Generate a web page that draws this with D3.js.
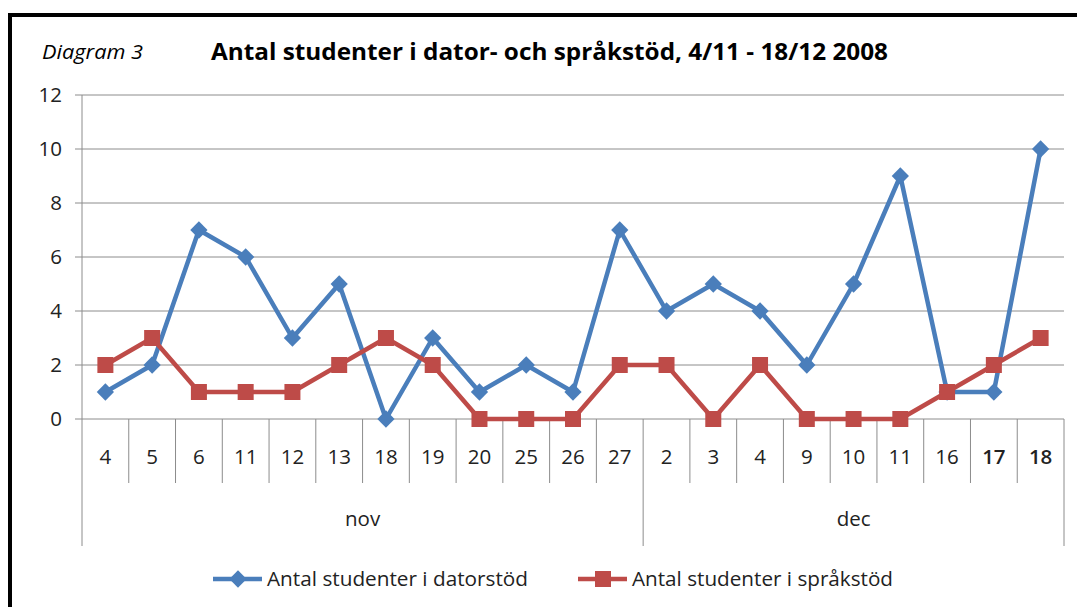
<!DOCTYPE html>
<html>
<head>
<meta charset="utf-8">
<script src="https://cdn.jsdelivr.net/npm/d3@7"></script>
<style>
  body { margin: 0; background: #fff; }
  text { font-family: "Open Sans", "Liberation Sans", sans-serif; }
</style>
</head>
<body>
<div id="chart"></div>
<script>
// data
var days = ["4","5","6","11","12","13","18","19","20","25","26","27","2","3","4","9","10","11","16","17","18"];
var months = ["nov","nov","nov","nov","nov","nov","nov","nov","nov","nov","nov","nov","dec","dec","dec","dec","dec","dec","dec","dec","dec"];
var dator = [1,2,7,6,3,5,0,3,1,2,1,7,4,5,4,2,5,9,1,1,10];
var sprak = [2,3,1,1,1,2,3,2,0,0,0,2,2,0,2,0,0,0,1,2,3];
var yTicks = [0,2,4,6,8,10,12];

var W = 1077, H = 607;
var plotL = 82, plotR = 1064, plotT = 95, plotB = 419;
var axisFont = 20.5;

var svg = d3.select("#chart").append("svg")
    .attr("width", W).attr("height", H);

// frame
svg.append("rect").attr("x", 10).attr("y", 15).attr("width", 1100).attr("height", 650)
    .attr("fill", "none").attr("stroke", "#000").attr("stroke-width", 4);

var idx = d3.range(days.length);
var x = d3.scaleBand().domain(idx).range([plotL, plotR]);
var y = d3.scaleLinear().domain([0, 12]).range([plotB, plotT]);

// gridlines
svg.append("g").selectAll("line").data(yTicks).enter().append("line")
    .attr("x1", plotL - 7).attr("x2", plotR)
    .attr("y1", function(d) { return y(d); }).attr("y2", function(d) { return y(d); })
    .attr("stroke", "#8c8c8c").attr("stroke-width", 1);

// y axis
svg.append("line").attr("x1", plotL).attr("x2", plotL).attr("y1", plotT).attr("y2", 546)
    .attr("stroke", "#8c8c8c");
svg.append("g").selectAll("text").data(yTicks).enter().append("text")
    .attr("x", 62).attr("y", function(d) { return y(d) + 7; })
    .attr("text-anchor", "end").attr("font-size", axisFont).attr("fill", "#222")
    .text(function(d) { return d; });

// category separators
svg.append("g").selectAll("line").data(idx.slice(1)).enter().append("line")
    .attr("x1", function(d) { return x(d); }).attr("x2", function(d) { return x(d); })
    .attr("y1", plotB).attr("y2", function(d) { return months[d] != months[d-1] ? 546 : 483; })
    .attr("stroke", "#8c8c8c");
svg.append("line").attr("x1", plotR).attr("x2", plotR).attr("y1", plotB).attr("y2", 546)
    .attr("stroke", "#8c8c8c");

svg.append("g").selectAll("text").data(idx).enter().append("text")
    .attr("x", function(d) { return x(d) + x.bandwidth() / 2; })
    .attr("y", 464).attr("text-anchor", "middle").attr("font-size", axisFont).attr("fill", "#222")
    .attr("font-weight", function(d) { return d >= 19 ? 600 : null; })
    .text(function(d) { return days[d]; });

// month labels
var groups = d3.groups(idx, function(d) { return months[d]; });
svg.append("g").selectAll("text").data(groups).enter().append("text")
    .attr("x", function(g) {
      var a = g[1][0], b = g[1][g[1].length - 1];
      return (x(a) + x(b) + x.bandwidth()) / 2;
    })
    .attr("y", 526).attr("text-anchor", "middle").attr("font-size", axisFont).attr("fill", "#222")
    .text(function(g) { return g[0]; });

var blue = "#4a7ebb", red = "#be4b48";
var line = function(vals) {
  return d3.line()
    .x(function(d, i) { return x(i) + x.bandwidth() / 2; })
    .y(function(d) { return y(d); })(vals);
};

svg.append("path").attr("d", line(dator)).attr("fill", "none")
    .attr("stroke", blue).attr("stroke-width", 4.5).attr("stroke-linejoin", "round");
svg.append("g").selectAll("path").data(dator).enter().append("path")
    .attr("d", d3.symbol(d3.symbolDiamond2, 190)())
    .attr("transform", function(d, i) { return "translate(" + (x(i) + x.bandwidth() / 2) + "," + y(d) + ")"; })
    .attr("fill", blue);

svg.append("path").attr("d", line(sprak)).attr("fill", "none")
    .attr("stroke", red).attr("stroke-width", 4.5).attr("stroke-linejoin", "round");
svg.append("g").selectAll("rect").data(sprak).enter().append("rect")
    .attr("x", function(d, i) { return x(i) + x.bandwidth() / 2 - 8; })
    .attr("y", function(d) { return y(d) - 8; })
    .attr("width", 16).attr("height", 16).attr("fill", red);

// titles
svg.append("text").attr("x", 42).attr("y", 59).attr("font-size", 20).attr("font-style", "italic")
    .attr("fill", "#000").attr("textLength", 101).attr("lengthAdjust", "spacingAndGlyphs")
    .text("Diagram 3");
svg.append("text").attr("x", 211).attr("y", 60).attr("font-size", 23).attr("font-weight", "bold")
    .attr("fill", "#000").attr("textLength", 677).attr("lengthAdjust", "spacingAndGlyphs")
    .text("Antal studenter i dator- och språkstöd, 4/11 - 18/12 2008");

// legend
var legend = [
  {name: "Antal studenter i datorstöd", color: blue, x: 213, shape: "diamond"},
  {name: "Antal studenter i språkstöd", color: red, x: 578, shape: "square"}
];
var lg = svg.append("g").selectAll("g").data(legend).enter().append("g")
    .attr("transform", function(d) { return "translate(" + d.x + ",579)"; });
lg.append("line").attr("x1", 0).attr("x2", 49).attr("y1", 0).attr("y2", 0)
    .attr("stroke", function(d) { return d.color; }).attr("stroke-width", 4.5);
lg.append("path")
    .attr("d", function(d) { return d.shape == "diamond" ? d3.symbol(d3.symbolDiamond2, 190)() : "M-8,-8H8V8H-8Z"; })
    .attr("transform", "translate(25,0)")
    .attr("fill", function(d) { return d.color; });
lg.append("text").attr("x", 54).attr("y", 7).attr("font-size", axisFont).attr("fill", "#222")
    .attr("textLength", 261).attr("lengthAdjust", "spacingAndGlyphs")
    .text(function(d) { return d.name; });
</script>
</body>
</html>
